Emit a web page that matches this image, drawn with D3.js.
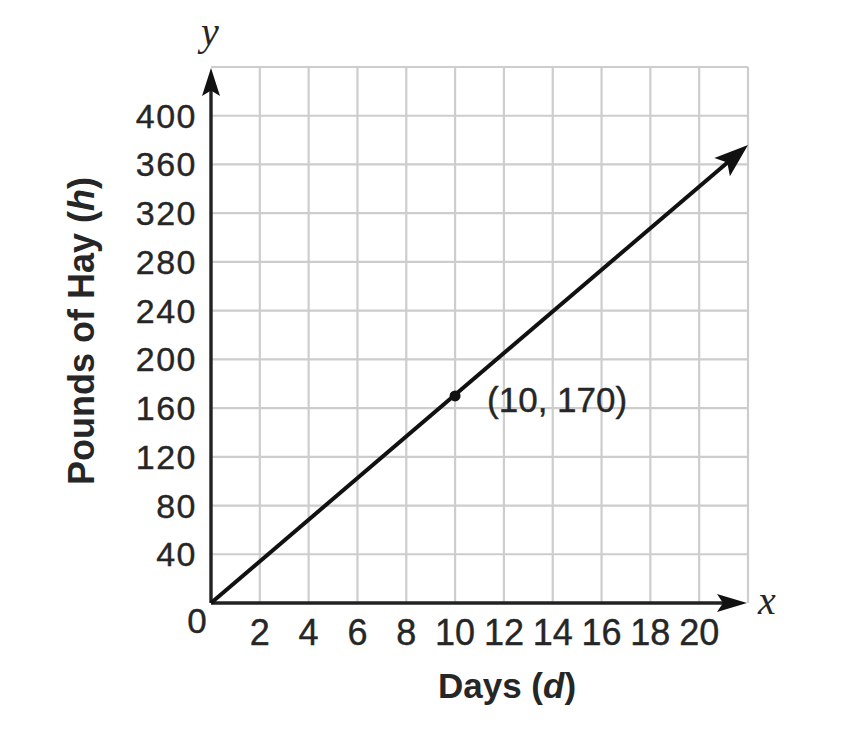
<!DOCTYPE html>
<html>
<head>
<meta charset="utf-8">
<script src="https://cdn.jsdelivr.net/npm/d3@7"></script>
<style>
  html, body { margin: 0; padding: 0; background: #fff; }
  svg { display: block; }
  text { fill: #262626; }
</style>
</head>
<body>
<svg id="chart" width="856" height="732"></svg>
<script>
// ---- data ----
const xTicks = [2, 4, 6, 8, 10, 12, 14, 16, 18, 20];
const yTicks = [40, 80, 120, 160, 200, 240, 280, 320, 360, 400];
const xGrid = [2, 4, 6, 8, 10, 12, 14, 16, 18, 20, 22];
const yGrid = [40, 80, 120, 160, 200, 240, 280, 320, 360, 400, 440];
const lineDays = [0, 22];
const lineHay = [0, 376];
const pointDays = [10];
const pointHay = [170];
const pointLabels = ["(10, 170)"];
const xTitle = "Days";
const xVar = "d";
const yTitle = "Pounds of Hay";
const yVar = "h";

// ---- layout ----
const SANS = "'Liberation Sans', Arial, Helvetica, sans-serif";
const SERIF = "'Liberation Serif', 'DejaVu Serif', 'Times New Roman', serif";
const svg = d3.select("#chart").style("font-family", SANS);
const x = d3.scaleLinear().domain([0, 22]).range([211, 748]);
const y = d3.scaleLinear().domain([0, 440]).range([603, 67]);

// grid
const grid = svg.append("g").attr("stroke", "#cdcdcd").attr("stroke-width", 2.2);
grid.selectAll("line.v").data(xGrid).join("line")
  .attr("x1", d => x(d)).attr("x2", d => x(d))
  .attr("y1", y(0)).attr("y2", y(440));
grid.selectAll("line.h").data(yGrid).join("line")
  .attr("x1", x(0)).attr("x2", x(22))
  .attr("y1", d => y(d)).attr("y2", d => y(d));

function arrowHead(g, tipX, tipY, angle, len, halfW) {
  const bx = tipX - len * Math.cos(angle), by = tipY - len * Math.sin(angle);
  const nx = -Math.sin(angle), ny = Math.cos(angle);
  const ix = tipX - len * 0.8 * Math.cos(angle), iy = tipY - len * 0.8 * Math.sin(angle);
  g.append("path")
    .attr("d", `M${tipX},${tipY} L${bx + nx * halfW},${by + ny * halfW} L${ix},${iy} L${bx - nx * halfW},${by - ny * halfW} Z`)
    .attr("fill", "#111");
}

// axes
const axes = svg.append("g");
axes.append("line").attr("x1", x(0)).attr("x2", x(22) - 12)
  .attr("y1", y(0)).attr("y2", y(0)).attr("stroke", "#222").attr("stroke-width", 3.4);
axes.append("line").attr("x1", x(0)).attr("x2", x(0))
  .attr("y1", y(0)).attr("y2", y(440) + 12).attr("stroke", "#222").attr("stroke-width", 3.4);
arrowHead(axes, x(22) - 1, y(0), 0, 30, 9);
arrowHead(axes, x(0), y(440) + 1, -Math.PI / 2, 28, 9);

// tick labels
svg.append("g").selectAll("text").data(xTicks).join("text")
  .attr("x", d => x(d)).attr("y", 645)
  .attr("text-anchor", "middle").attr("font-size", 36)
  .attr("stroke", "#262626").attr("stroke-width", 0.4)
  .text(d => d);
svg.append("g").selectAll("text").data(yTicks).join("text")
  .attr("x", 197).attr("y", d => y(d) + 12)
  .attr("text-anchor", "end").attr("font-size", 34).attr("letter-spacing", 1.5)
  .attr("stroke", "#262626").attr("stroke-width", 0.4)
  .text(d => d);
svg.append("text").attr("x", 197).attr("y", 633).attr("text-anchor", "middle")
  .attr("font-size", 35).attr("stroke", "#262626").attr("stroke-width", 0.4).text("0");

// axis variable letters
svg.append("text").attr("x", 210).attr("y", 45).attr("text-anchor", "middle")
  .style("font-family", SERIF)
  .attr("font-style", "italic").attr("font-size", 40).text("y");
svg.append("text").attr("x", 767).attr("y", 614).attr("text-anchor", "middle")
  .style("font-family", SERIF)
  .attr("font-style", "italic").attr("font-size", 40).text("x");

// axis titles
const xt = svg.append("text").attr("x", 507).attr("y", 698).attr("text-anchor", "middle")
  .attr("font-size", 35).attr("font-weight", "bold");
xt.append("tspan").text(xTitle + " (");
xt.append("tspan").attr("font-style", "italic").text(xVar);
xt.append("tspan").text(")");

const yt = svg.append("text").attr("transform", "translate(94,331) rotate(-90)")
  .attr("text-anchor", "middle").attr("font-size", 36).attr("font-weight", "bold");
yt.append("tspan").text(yTitle + " (");
yt.append("tspan").attr("font-style", "italic").text(yVar);
yt.append("tspan").text(")");

// data line
const pts = lineDays.map((d, i) => [x(d), y(lineHay[i])]);
const ang = Math.atan2(pts[1][1] - pts[0][1], pts[1][0] - pts[0][0]);
const trim = 20;
svg.append("path")
  .attr("d", d3.line()([pts[0], [pts[1][0] - trim * Math.cos(ang), pts[1][1] - trim * Math.sin(ang)]]))
  .attr("stroke", "#111").attr("stroke-width", 4).attr("fill", "none");
arrowHead(svg, pts[1][0], pts[1][1], ang, 34, 12);

// point
svg.append("g").selectAll("circle").data(pointDays).join("circle")
  .attr("cx", d => x(d)).attr("cy", (d, i) => y(pointHay[i])).attr("r", 5.5).attr("fill", "#111");
svg.append("g").selectAll("text").data(pointDays).join("text")
  .attr("x", d => x(d) + 32).attr("y", (d, i) => y(pointHay[i]) + 16)
  .attr("font-size", 35).attr("stroke", "#262626").attr("stroke-width", 0.4)
  .text((d, i) => pointLabels[i]);
</script>
</body>
</html>
